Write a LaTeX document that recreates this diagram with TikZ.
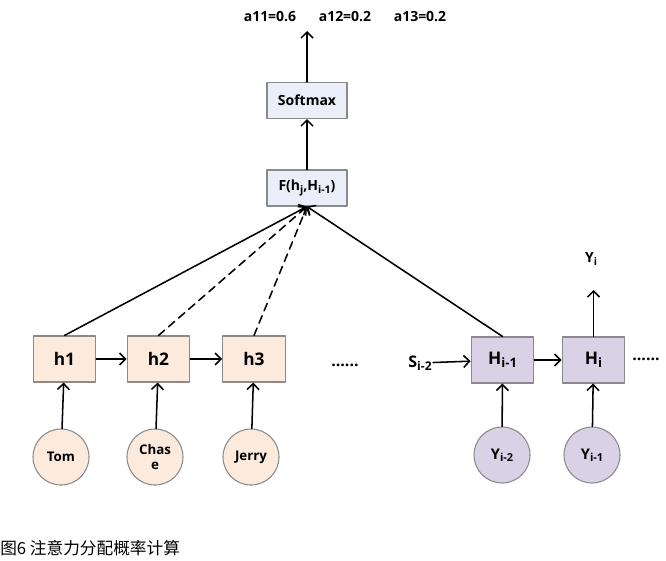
\documentclass[tikz,border=0pt]{standalone}
\usepackage{fontspec}
\setmainfont{Open Sans}
\newfontfamily\cjk{Noto Sans CJK SC}
\usetikzlibrary{arrows.meta}

\definecolor{encfill}{HTML}{FCEBDD}
\definecolor{decfill}{HTML}{D9D1E5}
\definecolor{topfill}{HTML}{E9EEF8}
\definecolor{edge}{HTML}{8A8A8A}

\newcommand\lowsub[1]{\raisebox{-0.3ex}{\scalebox{0.75}{#1}}}

\begin{document}
\begin{tikzpicture}[
  x=0.75pt, y=-0.75pt,
  line cap=round,
  line join=round,
  >={Straight Barb[length=4.5pt,width=9pt]},
  link/.style={->, line width=1.15pt},
  enc/.style={draw=edge, fill=encfill, line width=0.8pt, minimum width=47pt, minimum height=34.5pt, inner sep=0pt, font=\bfseries\fontsize{13}{15}\selectfont},
  dec/.style={enc, fill=decfill},
  word/.style={circle, draw=edge, fill=encfill, line width=0.8pt, minimum size=42pt, inner sep=0pt, align=center, font=\bfseries\fontsize{10}{11}\selectfont},
  yword/.style={word, fill=decfill, font=\bfseries\fontsize{11}{12}\selectfont},
  calc/.style={draw=edge, fill=topfill, line width=0.8pt, minimum width=60pt, minimum height=27pt, inner sep=0pt, font=\bfseries\fontsize{10.5}{12}\selectfont},
  lab/.style={font=\bfseries\fontsize{10.5}{12}\selectfont, inner sep=1pt}
]
  \useasboundingbox (0,0) rectangle (666,560);

  % Encoder
  \node[enc] (h1) at (64.5,359) {h1};
  \node[enc] (h2) at (158.5,359) {h2};
  \node[enc] (h3) at (254,359) {h3};
  \node[lab, font=\bfseries\fontsize{12}{12}\selectfont] (dots1) at (345,365) {......};

  \node[word] (tom) at (61,457) {Tom};
  \node[word] (chase) at (155,457) {Chas\\e};
  \node[word] (jerry) at (251,457) {Jerry};

  % Decoder
  \node[dec] (Hprev) at (502.5,360) {H\lowsub{i-1}};
  \node[dec] (Hcur) at (593.5,360) {H\lowsub{i}};
  \node[lab, font=\bfseries\fontsize{12}{14}\selectfont] (S) at (420,363) {S\lowsub{i-2}};
  \node[lab, font=\bfseries\fontsize{12}{12}\selectfont] (dots2) at (646,359) {......};

  \node[yword] (yprev) at (502,455) {Y\lowsub{i-2}};
  \node[yword] (ycur) at (592,455) {Y\lowsub{i-1}};

  \node[lab] (yi) at (591,259) {Y\lowsub{i}};
  \coordinate (yout) at (593.5,290);

  % Attention
  \node[calc] (F) at (307,188) {F(h\lowsub{j},H\lowsub{i-1})};
  \node[calc] (soft) at (307,100.5) {Softmax};
  \coordinate (aout) at (307,31);

  \node[lab] (a11) at (270,17) {a11=0.6};
  \node[lab] (a12) at (345,17) {a12=0.2};
  \node[lab] (a13) at (420,17) {a13=0.2};

  % Pfeile
  \draw[link] (h1) -- (h2);
  \draw[link] (h2) -- (h3);
  \draw[link] (tom) -- (h1);
  \draw[link] (chase) -- (h2);
  \draw[link] (jerry) -- (h3);

  \draw[link] (S) -- (Hprev);
  \draw[link] (Hprev) -- (Hcur);
  \draw[link] (yprev) -- (Hprev);
  \draw[link] (ycur) -- (Hcur);
  \draw[link] (Hcur) -- (yout);

  \draw[link] (h1.north) -- (F.south);
  \draw[link, dash pattern=on 6pt off 4pt] (h2.north) -- (F.south);
  \draw[link, dash pattern=on 6pt off 4pt] (h3.north) -- (F.south);
  \draw[link] (Hprev.north) -- (F.south);

  \draw[link] (F) -- (soft);
  \draw[link] (soft) -- (aout);

  % Bildunterschrift
  \node[anchor=west, inner sep=0pt, font=\cjk\fontsize{12.5}{14}\selectfont] (cap) at (0,548) {图6 注意力分配概率计算};
\end{tikzpicture}
\end{document}
